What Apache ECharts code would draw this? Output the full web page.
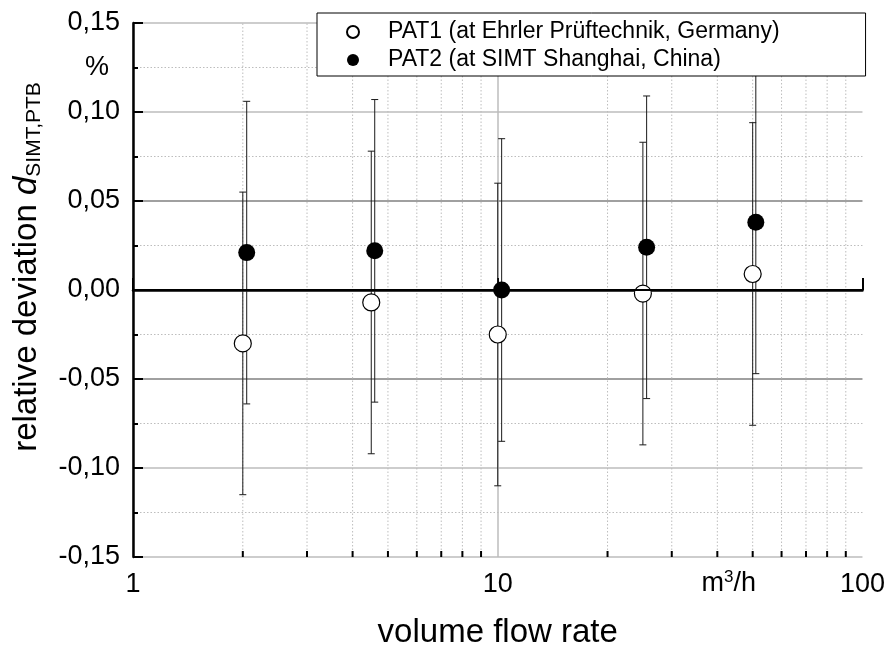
<!DOCTYPE html>
<html>
<head>
<meta charset="utf-8">
<script src="https://cdn.jsdelivr.net/npm/echarts@6/dist/echarts.min.js"></script>
<style>
  html, body { margin: 0; background: #fff; }
  #chart { width: 888px; height: 649px; }
</style>
</head>
<body>
<div id="chart"></div>
<script>
// values
const flowPat1 = [2.0, 4.5, 10.0, 25.0, 50.0]
const flowPat2 = [2.05, 4.6, 10.25, 25.6, 51.0]
const devPat1 = [-0.030, -0.007, -0.025, -0.002, 0.009]
const devPat2 = [0.021, 0.022, 0.000, 0.024, 0.038]
const uncPat1 = [0.085, 0.085, 0.085, 0.085, 0.085]
const uncPat2 = [0.085, 0.085, 0.085, 0.085, 0.085]
const minorFlow = [2, 3, 4, 5, 6, 7, 8, 9, 20, 30, 40, 50, 60, 70, 80, 90]
const namePat1 = 'PAT1 (at Ehrler Prüftechnik, Germany)'
const namePat2 = 'PAT2 (at SIMT Shanghai, China)'

const FONT = '"Liberation Sans", Arial, sans-serif'
const chart = echarts.init(document.getElementById('chart'))

// vertical error bars with small caps
const errorBars = (xs, ys, us) => ({
  type: 'custom',
  z: 3,
  silent: true,
  data: xs.map((x, i) => [x, ys[i] - us[i], ys[i] + us[i]]),
  renderItem(params, api) {
    const lo = api.coord([api.value(0), api.value(1)])
    const hi = api.coord([api.value(0), api.value(2)])
    const w = 3.5
    const style = { stroke: '#1a1a1a', lineWidth: 1 }
    return {
      type: 'group',
      children: [
        { type: 'line', shape: { x1: lo[0], y1: lo[1], x2: hi[0], y2: hi[1] }, style },
        { type: 'line', shape: { x1: lo[0] - w, y1: lo[1], x2: lo[0] + w, y2: lo[1] }, style },
        { type: 'line', shape: { x1: hi[0] - w, y1: hi[1], x2: hi[0] + w, y2: hi[1] }, style }
      ]
    }
  }
})

// log axis minor grid lines and inward ticks
const minorGrid = {
  type: 'custom',
  z: 1,
  silent: true,
  data: minorFlow.map(v => [v]),
  renderItem(params, api) {
    const b = api.coord([api.value(0), -0.15])
    const t = api.coord([api.value(0), 0.15])
    return {
      type: 'group',
      children: [
        { type: 'line', shape: { x1: b[0], y1: b[1], x2: t[0], y2: t[1] },
          style: { stroke: '#bdbdbd', lineWidth: 1, lineDash: [1.5, 2] } },
        { type: 'line', shape: { x1: b[0], y1: b[1], x2: b[0], y2: b[1] - 6 },
          style: { stroke: '#000', lineWidth: 2 } }
      ]
    }
  }
}

chart.setOption({
  animation: false,
  textStyle: { fontFamily: FONT },
  grid: { left: 133, right: 25, top: 23, bottom: 92 },
  legend: {
    orient: 'vertical',
    left: 317,
    top: 13,
    data: [namePat1, namePat2],
    icon: 'circle',
    itemWidth: 60,
    itemHeight: 12,
    itemGap: 4,
    padding: [7, 86, 4, 29],
    borderColor: '#000',
    borderWidth: 1,
    backgroundColor: '#fff',
    borderRadius: 0,
    z: 10,
    textStyle: { fontSize: 23, color: '#000', fontFamily: FONT, lineHeight: 24 }
  },
  xAxis: {
    type: 'log',
    logBase: 10,
    min: 1,
    max: 100,
    axisLine: { lineStyle: { color: '#000', width: 2.5 } },
    axisTick: { inside: true, length: 12, lineStyle: { color: '#000', width: 2 } },
    axisLabel: { fontSize: 27, color: '#000', margin: 14, fontFamily: FONT },
    splitLine: { show: true, showMaxLine: false, lineStyle: { color: '#bdbdbd', width: 1.5 } }
  },
  yAxis: {
    type: 'value',
    min: -0.15,
    max: 0.15,
    interval: 0.05,
    axisLine: { onZero: false, lineStyle: { color: '#000', width: 2.5 } },
    axisTick: { inside: true, length: 10, lineStyle: { color: '#000', width: 2 } },
    minorTick: { show: true, splitNumber: 2, length: 5, lineStyle: { color: '#000', width: 2 } },
    axisLabel: {
      fontSize: 27, color: '#000', margin: 13, fontFamily: FONT,
      formatter: v => v.toFixed(2).replace('.', ',')
    },
    splitLine: {
      show: true,
      lineStyle: { color: ['#bdbdbd', '#bdbdbd', '#808080', '#000', '#808080', '#bdbdbd', '#bdbdbd'], width: 1.5 }
    },
    minorSplitLine: { show: true, lineStyle: { color: '#bdbdbd', width: 1, type: [1.5, 2] } }
  },
  series: [
    minorGrid,
    errorBars(flowPat1, devPat1, uncPat1),
    errorBars(flowPat2, devPat2, uncPat2),
    {
      name: namePat1,
      type: 'scatter',
      z: 4,
      symbol: 'circle',
      symbolSize: 17,
      itemStyle: { color: '#fff', borderColor: '#000', borderWidth: 1.2, opacity: 1 },
      data: flowPat1.map((x, i) => [x, devPat1[i]])
    },
    {
      name: namePat2,
      type: 'scatter',
      z: 4,
      symbol: 'circle',
      symbolSize: 17,
      itemStyle: { color: '#000', opacity: 1 },
      data: flowPat2.map((x, i) => [x, devPat2[i]]),
      markLine: {
        silent: true,
        symbol: 'none',
        label: { show: false },
        lineStyle: { color: '#000', width: 2, type: 'solid' },
        data: [{ yAxis: 0 }]
      }
    }
  ]
})

// extra labels placed from axis coordinates
const pctPos = chart.convertToPixel({ gridIndex: 0 }, [1, 0.125])
const unitPos = chart.convertToPixel({ gridIndex: 0 }, [43, -0.15])
const midPos = chart.convertToPixel({ gridIndex: 0 }, [10, -0.15])

chart.setOption({
  graphic: [
    {
      type: 'text', x: pctPos[0] - 36, y: pctPos[1],
      style: { text: '%', font: '27px ' + FONT, fill: '#000', align: 'center', verticalAlign: 'middle' }
    },
    {
      type: 'text', x: unitPos[0], y: unitPos[1] + 27,
      style: {
        text: '{a|m}{s|3}{a|/h}', align: 'center', verticalAlign: 'middle',
        rich: {
          a: { fontSize: 27, fontFamily: FONT, fill: '#000', lineHeight: 30 },
          s: { fontSize: 17, fontFamily: FONT, fill: '#000', lineHeight: 14, verticalAlign: 'top' }
        }
      }
    },
    {
      type: 'text', x: midPos[0], y: 633,
      style: { text: 'volume flow rate', font: '33px ' + FONT, fill: '#000', align: 'center', verticalAlign: 'middle' }
    },
    {
      type: 'text', x: 27, y: 267, rotation: Math.PI / 2,
      style: {
        text: '{a|relative deviation }{d|d}{s|SIMT,PTB}', align: 'center', verticalAlign: 'middle',
        rich: {
          a: { fontSize: 33, fontFamily: FONT, fill: '#000', lineHeight: 36 },
          d: { fontSize: 33, fontFamily: FONT, fontStyle: 'italic', fill: '#000', lineHeight: 36 },
          s: { fontSize: 21, fontFamily: FONT, fill: '#000', lineHeight: 28, verticalAlign: 'bottom' }
        }
      }
    }
  ]
})
</script>
</body>
</html>
